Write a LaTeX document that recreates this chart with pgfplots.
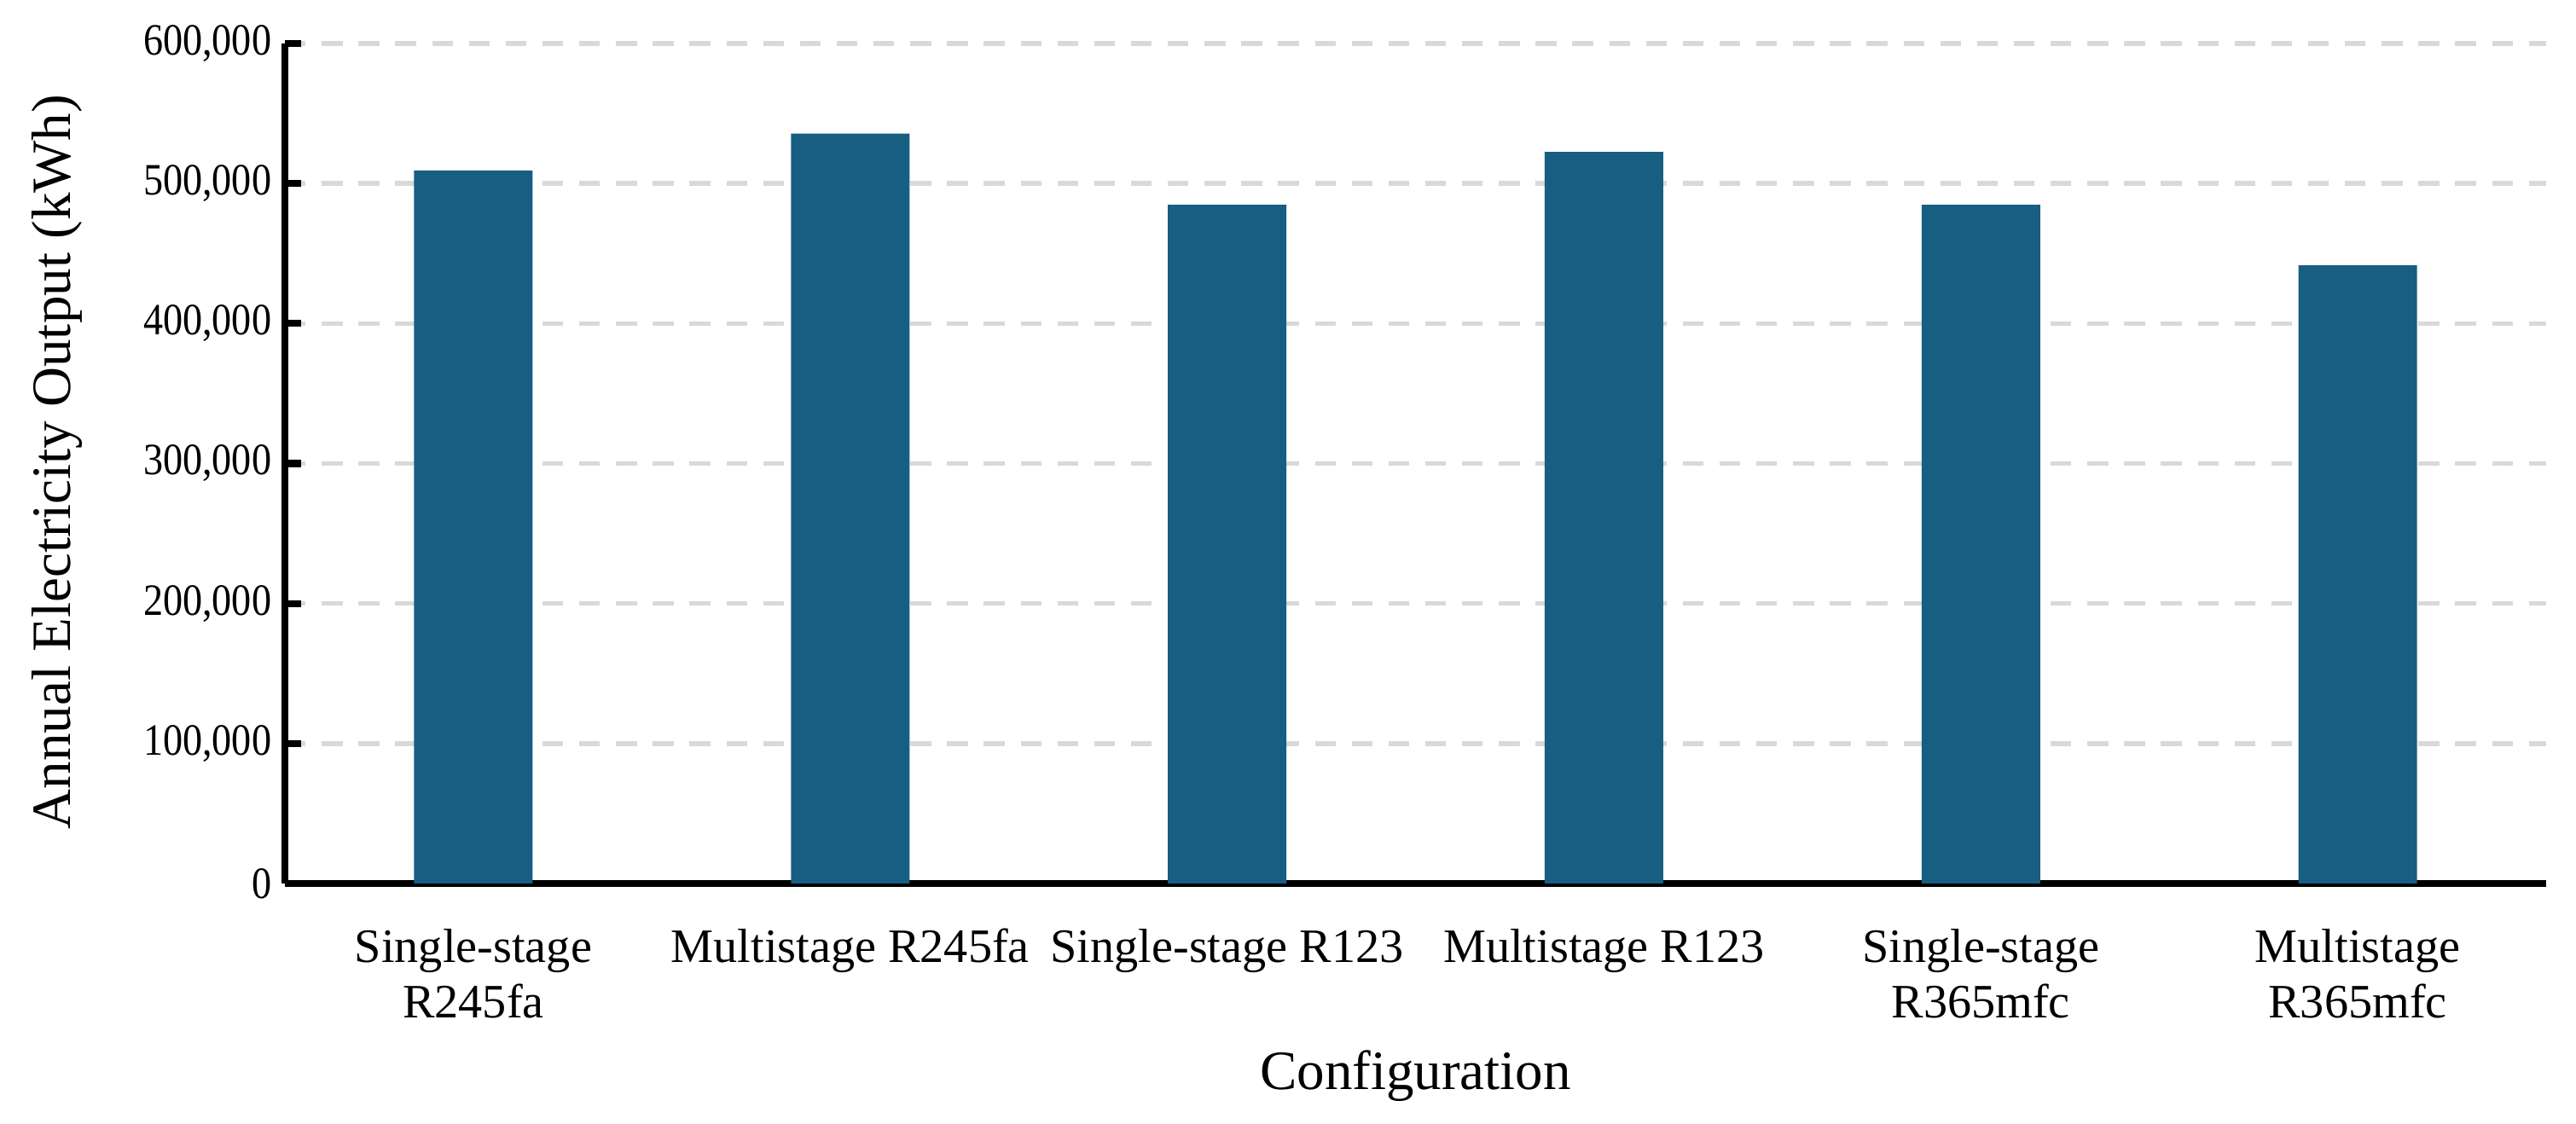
\documentclass[border=0pt]{standalone}
\usepackage{fontspec}
\setmainfont{Liberation Serif}
\newfontfamily\tickfont[FakeStretch=0.88]{Liberation Serif}
\usepackage{pgfplots}
\pgfplotsset{compat=1.18}
\definecolor{barblue}{RGB}{23,94,130}
\definecolor{gridgray}{RGB}{217,217,217}
\begin{document}
\begin{tikzpicture}
\path[use as bounding box] (-53.44pt,-45.12pt) rectangle (429.76pt,165.76pt);
\begin{axis}[
  at={(0,0)}, anchor=south west,
  scale only axis, width=424.16pt, height=157.6pt,
  xmin=-0.5, xmax=5.5, ymin=0, ymax=600000,
  axis x line*=bottom, axis y line*=left,
  axis line style={line width=1.3pt, -, black},
  ybar, bar width=22.24pt,
  xtick={0,1,2,3,4,5},
  xticklabels={{Single-stage\\R245fa},{Multistage R245fa},{Single-stage R123},{Multistage R123},{Single-stage\\R365mfc},{Multistage\\R365mfc}},
  xticklabel style={align=center, font=\fontsize{9}{10.4}\selectfont, yshift=-5pt},
  xtick style={draw=none},
  ytick={0,100000,200000,300000,400000,500000,600000},
  yticklabels={0,{100,000},{200,000},{300,000},{400,000},{500,000},{600,000}},
  scaled y ticks=false,
  yticklabel style={font=\tickfont\fontsize{8.4}{10}\selectfont, xshift=1pt},
  tick align=inside,
  major tick length=3pt,
  ytick style={line width=1.3pt, black},
  ymajorgrids,
  grid style={gridgray, line width=0.9pt, dash pattern=on 3.9pt off 3pt},
  xlabel={Configuration},
  xlabel style={at={(axis description cs:0.5,0)}, anchor=base, yshift=-38.6pt, font=\fontsize{10.4}{12}\selectfont},
  ylabel={Annual Electricity Output (kWh)},
  ylabel style={at={(axis description cs:-0.0948,0.502)}, anchor=base, font=\fontsize{10.4}{12}\selectfont},
]
\addplot[fill=barblue, draw=none] coordinates {(0,509300) (1,535600) (2,484800) (3,522600) (4,484800) (5,441500)};
\end{axis}
\end{tikzpicture}
\end{document}
